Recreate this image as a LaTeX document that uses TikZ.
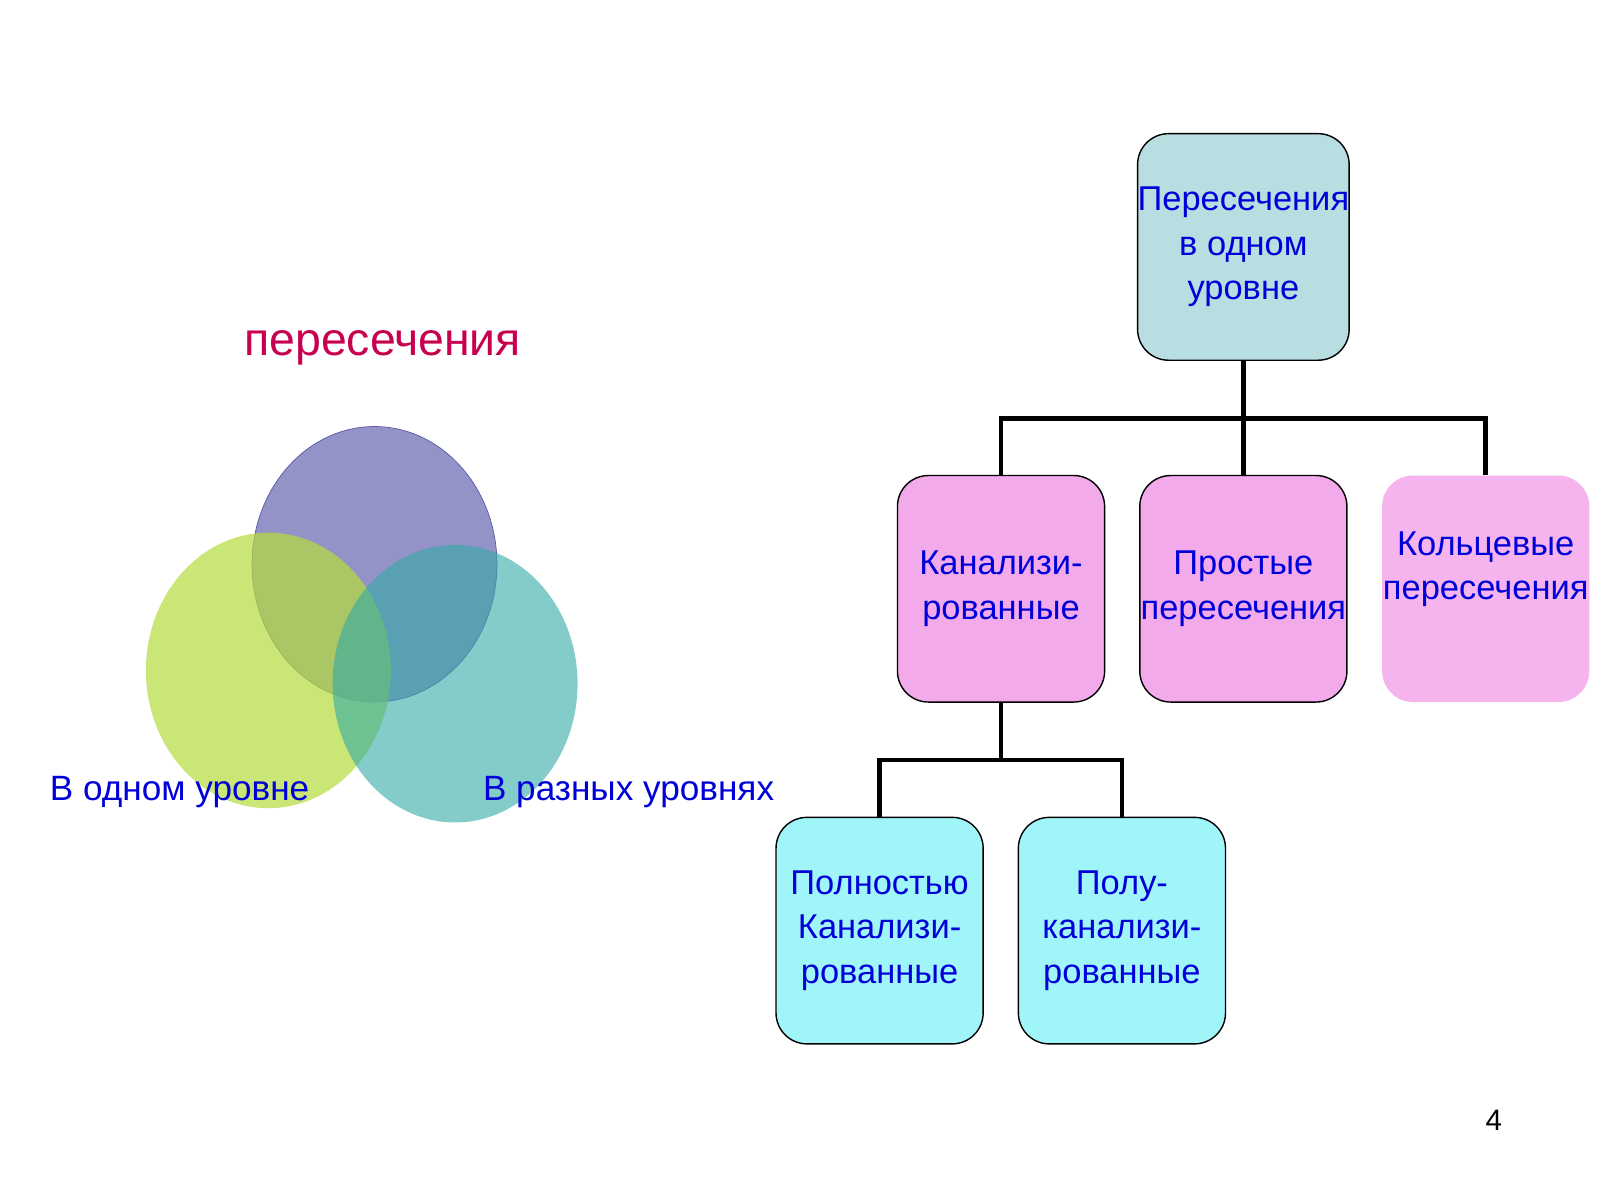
\documentclass[tikz,border=0pt]{standalone}
\usepackage{fontspec}
\setmainfont{Liberation Sans}
\begin{document}
\begin{tikzpicture}[x=0.0255cm,y=-0.0255cm,
  box/.style={draw=black,line width=1pt,rounded corners=22pt,minimum width=203*0.0255cm,minimum height=222*0.0255cm,align=center,text=blue!85!black,font=\fontsize{24.5}{31.5}\selectfont,inner sep=0pt},
  conn/.style={line width=3.2pt}]
\useasboundingbox (0,0) rectangle (1568,1176);
\fill[white] (0,0) rectangle (1568,1176);
% circles
\fill[fill={rgb,255:red,120;green,120;blue,185},opacity=0.8] (367,553) ellipse [x radius=120,y radius=135];
\draw[gray!70!blue,line width=0.5pt] (367,553) ellipse [x radius=120,y radius=135];
\fill[fill={rgb,255:red,180;green,220;blue,60},opacity=0.7] (263,657) ellipse [x radius=120,y radius=135];
\fill[fill={rgb,255:red,50;green,170;blue,165},opacity=0.6] (446,670) ellipse [x radius=120,y radius=136];
\node[text={rgb,255:red,200;green,0;blue,80},font=\fontsize{33}{38}\selectfont] (t) at (375,341) {пересечения};
\node[text=blue!85!black,font=\fontsize{25}{31}\selectfont] (l1) at (176,776) {В одном уровне};
\node[text=blue!85!black,font=\fontsize{25}{31}\selectfont] (l2) at (616,776) {В разных уровнях};
\node[font=\fontsize{21}{24}\selectfont] (p) at (1464,1098) {4};
% tree
\node[box,fill={rgb,255:red,185;green,222;blue,225}] (top) at (1218.5,242) {Пересечения\\в одном\\уровне};
\node[box,fill={rgb,255:red,243;green,170;blue,235}] (k) at (981,577) {Канализи-\\рованные};
\node[box,fill={rgb,255:red,243;green,170;blue,235}] (s) at (1218.5,577) {Простые\\пересечения};
\node[box,draw=none,fill={rgb,255:red,245;green,180;blue,238}] (r) at (1456,577) {};
\node[align=center,text=blue!85!black,font=\fontsize{24.5}{31.5}\selectfont] (rt) at (1456,558) {Кольцевые\\пересечения};
\node[box,fill={rgb,255:red,160;green,245;blue,248}] (f) at (862,912) {Полностью\\Канализи-\\рованные};
\node[box,fill={rgb,255:red,160;green,245;blue,248}] (h) at (1099.5,912) {Полу-\\канализи-\\рованные};
\coordinate (j1) at (1218.5,410);
\coordinate (j2) at (981,745);
\draw[conn] (top.south) -- (j1);
\draw[conn] (k.north) |- (j1) -| (r.north);
\draw[conn] (j1) -- (s.north);
\draw[conn] (k.south) -- (j2);
\draw[conn] (f.north) |- (j2) -| (h.north);
\end{tikzpicture}
\end{document}
